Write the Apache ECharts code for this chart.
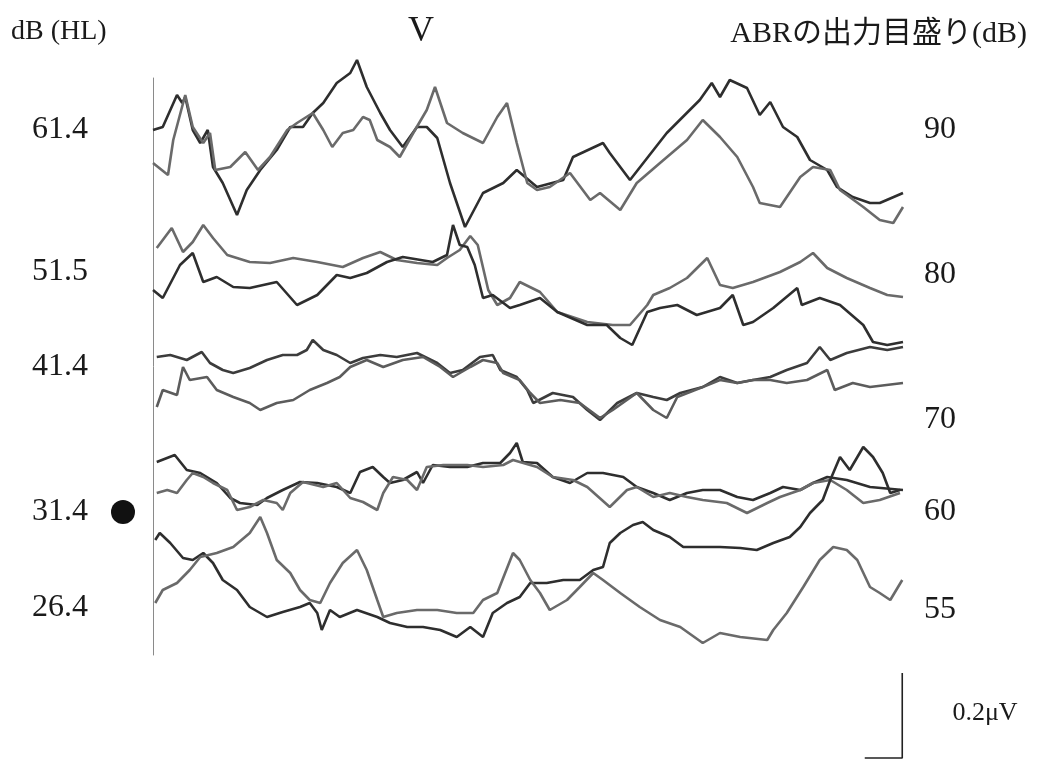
<!DOCTYPE html>
<html><head><meta charset="utf-8">
<script src="https://cdn.jsdelivr.net/npm/echarts@6/dist/echarts.min.js"></script>
<style>html,body{margin:0;padding:0;background:#fff}#c{width:1037px;height:775px}</style>
</head><body><div id="c"></div>
<script>
// Left labels: hearing level dB (HL); right labels: ABR output dial (dB)
const hlLabels = ['61.4', '51.5', '41.4', '31.4', '26.4'];
const outLabels = ['90', '80', '70', '60', '55'];

// Traces: [time (ms), displayed amplitude (display units, 430 units = 1 µV)]
const L1a = [[0,525],[0.13,528],[0.32,560],[0.39,552],[0.43,558],[0.53,525],[0.63,512],[0.73,525],[0.8,488],[0.93,472],[1.12,440],[1.25,465],[1.43,485],[1.65,505],[1.83,528],[2.0,528],[2.13,542],[2.27,552],[2.45,572],[2.63,582],[2.72,595],[2.85,568],[3.03,542],[3.16,525],[3.33,508],[3.52,528],[3.65,528],[3.79,517],[3.96,472],[4.16,428],[4.4,462],[4.67,472],[4.85,485],[5.12,468],[5.47,475],[5.6,498],[6.0,512],[6.09,502],[6.36,475],[6.85,522],[7.29,555],[7.45,572],[7.56,558],[7.69,575],[7.92,567],[8.09,540],[8.23,553],[8.4,528],[8.59,518],[8.76,495],[8.99,485],[9.12,468],[9.33,458],[9.56,452],[9.69,452],[10,462]];
const L1b = [[0,492],[0.2,480],[0.27,515],[0.43,560],[0.53,528],[0.67,512],[0.76,522],[0.83,485],[1.03,488],[1.23,503],[1.4,485],[1.56,498],[1.79,525],[1.92,532],[2.13,542],[2.27,525],[2.39,508],[2.53,522],[2.67,525],[2.8,538],[2.89,535],[2.99,515],[3.16,508],[3.29,498],[3.47,522],[3.65,545],[3.76,568],[3.92,532],[4.13,522],[4.4,512],[4.59,538],[4.72,552],[4.85,512],[4.99,472],[5.12,465],[5.29,468],[5.56,482],[5.83,455],[5.96,462],[6.23,445],[6.45,472],[6.76,492],[7.12,515],[7.33,535],[7.56,518],[7.79,498],[8.0,468],[8.09,452],[8.36,448],[8.63,478],[8.8,488],[9.03,485],[9.16,465],[9.47,448],[9.69,435],[9.87,432],[10,448]];
const L2a = [[0.05,407],[0.25,427],[0.4,403],[0.53,413],[0.67,430],[0.8,417],[0.99,400],[1.29,393],[1.56,392],[1.87,397],[2.19,393],[2.53,388],[2.8,397],[3.03,403],[3.25,395],[3.52,392],[3.79,390],[3.92,397],[4.09,405],[4.23,419],[4.33,410],[4.47,365],[4.59,350],[4.76,357],[4.89,373],[5.16,363],[5.39,343],[5.79,333],[6.13,330],[6.36,330],[6.59,350],[6.67,360],[6.89,367],[7.12,377],[7.39,397],[7.56,370],[7.73,367],[8.0,373],[8.36,383],[8.63,393],[8.8,402],[8.99,387],[9.25,377],[9.56,367],[9.79,360],[10,358]];
const L2b = [[0,365],[0.13,357],[0.36,390],[0.53,402],[0.67,373],[0.85,378],[1.07,368],[1.29,367],[1.65,373],[1.92,350],[2.19,360],[2.45,380],[2.63,377],[2.85,382],[3.12,393],[3.33,398],[3.73,393],[3.92,400],[4.0,430],[4.09,410],[4.19,408],[4.29,390],[4.4,357],[4.53,360],[4.76,347],[4.89,350],[5.16,357],[5.39,343],[5.79,330],[6.05,330],[6.23,317],[6.39,310],[6.59,343],[6.76,347],[6.99,350],[7.25,340],[7.56,347],[7.73,360],[7.87,330],[8.0,333],[8.27,347],[8.59,367],[8.65,350],[8.89,357],[9.16,350],[9.47,330],[9.6,313],[9.79,310],[10,313]];
const L3a = [[0.05,298],[0.23,300],[0.45,295],[0.65,303],[0.76,292],[0.93,285],[1.07,282],[1.29,287],[1.52,295],[1.73,300],[1.92,300],[2.05,305],[2.13,315],[2.27,305],[2.45,300],[2.63,292],[2.8,297],[3.03,300],[3.25,298],[3.52,302],[3.79,292],[3.96,282],[4.13,285],[4.36,298],[4.53,300],[4.63,285],[4.85,278],[4.99,265],[5.07,252],[5.33,262],[5.6,258],[5.79,245],[5.96,235],[6.19,252],[6.45,262],[6.67,258],[6.85,255],[7.03,262],[7.33,268],[7.56,278],[7.79,272],[8.0,275],[8.23,278],[8.45,285],[8.72,292],[8.89,308],[9.03,295],[9.25,302],[9.56,308],[9.79,305],[10,308]];
const L3b = [[0.05,248],[0.13,265],[0.32,260],[0.4,288],[0.49,275],[0.72,278],[0.85,265],[1.07,258],[1.29,252],[1.43,245],[1.65,252],[1.87,255],[2.09,265],[2.32,272],[2.49,278],[2.63,288],[2.85,295],[3.07,288],[3.33,295],[3.6,298],[3.83,288],[4.0,278],[4.23,288],[4.4,295],[4.59,292],[4.67,282],[4.89,275],[5.03,262],[5.16,252],[5.43,255],[5.69,252],[5.96,237],[6.13,245],[6.45,262],[6.67,245],[6.85,237],[6.99,258],[7.33,268],[7.56,275],[7.79,272],[8.0,275],[8.23,275],[8.45,272],[8.72,275],[8.99,285],[9.09,265],[9.33,272],[9.56,268],[10,272]];
const L4a = [[0.05,193],[0.29,200],[0.45,185],[0.63,182],[0.85,172],[1.03,157],[1.16,152],[1.39,150],[1.52,157],[1.73,165],[1.96,173],[2.19,172],[2.45,168],[2.63,162],[2.76,183],[2.93,188],[3.07,178],[3.16,172],[3.33,175],[3.52,183],[3.6,172],[3.73,190],[3.96,188],[4.19,188],[4.4,192],[4.63,192],[4.76,202],[4.85,212],[4.93,193],[5.12,192],[5.33,178],[5.56,172],[5.79,182],[6.0,182],[6.27,178],[6.45,168],[6.67,162],[6.89,155],[7.12,162],[7.33,165],[7.56,165],[7.79,158],[8.0,155],[8.23,162],[8.4,168],[8.63,165],[8.8,172],[8.99,178],[9.25,175],[9.56,168],[10,165]];
const L4b = [[0.05,162],[0.19,165],[0.32,162],[0.45,175],[0.53,182],[0.67,178],[0.8,172],[0.99,165],[1.12,145],[1.29,148],[1.47,155],[1.65,152],[1.73,145],[1.83,162],[2.0,173],[2.27,168],[2.45,172],[2.63,157],[2.8,153],[2.99,145],[3.07,162],[3.2,178],[3.39,175],[3.52,165],[3.65,188],[3.87,190],[4.19,190],[4.4,188],[4.67,190],[4.8,195],[5.12,188],[5.33,178],[5.6,175],[5.79,168],[6.09,148],[6.32,165],[6.45,168],[6.67,158],[6.89,162],[7.12,158],[7.33,155],[7.65,152],[7.92,142],[8.19,152],[8.36,158],[8.63,165],[8.8,172],[9.03,175],[9.25,165],[9.47,152],[9.69,155],[9.96,162]];
const L5a = [[0.03,115],[0.09,122],[0.23,112],[0.4,97],[0.53,95],[0.67,102],[0.8,92],[0.93,75],[1.12,65],[1.29,48],[1.52,38],[1.73,43],[1.96,48],[2.09,52],[2.19,42],[2.25,25],[2.36,45],[2.49,38],[2.72,45],[2.99,38],[3.16,32],[3.39,28],[3.6,28],[3.83,25],[4.05,18],[4.23,28],[4.4,18],[4.53,42],[4.72,52],[4.89,58],[5.03,72],[5.25,72],[5.47,75],[5.69,75],[5.87,85],[6.0,88],[6.09,112],[6.23,122],[6.4,130],[6.53,133],[6.67,125],[6.89,118],[7.07,108],[7.33,108],[7.56,108],[7.83,107],[8.05,105],[8.27,112],[8.49,118],[8.63,128],[8.76,142],[8.93,155],[9.03,175],[9.16,198],[9.29,185],[9.47,208],[9.6,198],[9.73,182],[9.83,162],[9.96,165]];
const L5b = [[0.03,52],[0.13,65],[0.32,72],[0.49,85],[0.63,98],[0.85,102],[1.07,108],[1.29,122],[1.43,138],[1.52,122],[1.65,95],[1.83,82],[1.96,65],[2.09,55],[2.23,52],[2.36,72],[2.53,92],[2.72,105],[2.85,85],[2.99,55],[3.07,38],[3.25,42],[3.52,45],[3.79,45],[4.05,42],[4.27,42],[4.4,55],[4.59,62],[4.8,102],[4.89,95],[5.03,75],[5.16,62],[5.29,45],[5.52,55],[5.69,68],[5.87,82],[6.0,75],[6.23,62],[6.49,48],[6.76,35],[7.03,28],[7.33,12],[7.56,22],[7.83,18],[8.19,15],[8.27,25],[8.45,42],[8.67,68],[8.89,95],[9.07,108],[9.25,105],[9.39,95],[9.56,68],[9.69,62],[9.83,55],[9.99,75]];

// Calibration bar (0.2 µV = 86 display units)
const scaleBar = [[9.49,-103],[9.99,-103],[9.99,-18]];
const scaleLabel = '0.2μV';

const traces = [
  {data: L1a, color: '#2e2e2e'}, {data: L1b, color: '#6a6a6a'},
  {data: L2a, color: '#6a6a6a'}, {data: L2b, color: '#2e2e2e'},
  {data: L3a, color: '#3c3c3c'}, {data: L3b, color: '#5c5c5c'},
  {data: L4a, color: '#2e2e2e'}, {data: L4b, color: '#6a6a6a'},
  {data: L5a, color: '#2e2e2e'}, {data: L5b, color: '#6a6a6a'}
];

const chart = echarts.init(document.getElementById('c'));
const serif = '"Liberation Serif", "Noto Sans CJK JP", serif';
const leftY = [130, 272, 367, 512, 608];
const rightY = [130, 275, 420, 512, 610];
const txt = (text, x, y, size, align) => ({type: 'text', style: {text: text, x: x, y: y,
  font: size + 'px ' + serif, fill: '#1a1a1a', align: align, verticalAlign: 'middle',
  textAlign: align, textVerticalAlign: 'middle'}});
const graphic = [];
hlLabels.forEach((t, i) => graphic.push(txt(t, 60, leftY[i], 32, 'center')));
outLabels.forEach((t, i) => graphic.push(txt(t, 940, rightY[i], 32, 'center')));
graphic.push(txt('dB (HL)', 11, 32, 28, 'left'));
graphic.push(txt('V', 421, 32, 36, 'center'));
graphic.push(txt('ABRの出力目盛り(dB)', 1027, 34, 30, 'right'));
graphic.push(txt(scaleLabel, 985, 713, 26, 'center'));
graphic.push({type: 'circle', shape: {cx: 123, cy: 512, r: 12}, style: {fill: '#111'}});

chart.setOption({
  animation: false,
  backgroundColor: '#fff',
  grid: {left: 153, right: 134, top: 78, bottom: 120},
  xAxis: {type: 'value', min: 0, max: 10, show: false},
  yAxis: {type: 'value', min: 0, max: 577,
    axisLine: {show: true, lineStyle: {color: '#8a8a8a', width: 1}},
    axisTick: {show: false}, axisLabel: {show: false}, splitLine: {show: false}},
  series: traces.map(tr => ({type: 'line', data: tr.data, showSymbol: false, clip: false,
      lineStyle: {color: tr.color, width: 2.6}})).concat([
    {type: 'line', data: scaleBar, showSymbol: false, clip: false, lineStyle: {color: '#222', width: 1.6}}
  ]),
  graphic: graphic
});
</script></body></html>
